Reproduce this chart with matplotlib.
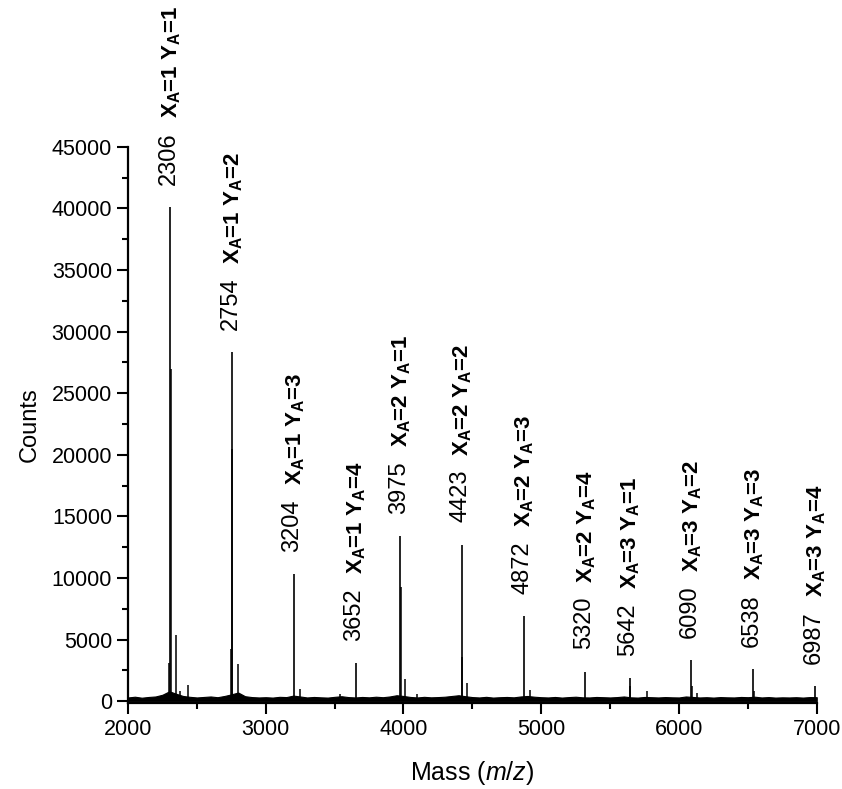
import matplotlib
matplotlib.use("Agg")
import matplotlib.pyplot as plt

plt.rcParams['font.family'] = ['Liberation Sans', 'DejaVu Sans']
plt.rcParams['mathtext.fontset'] = 'custom'
plt.rcParams['mathtext.rm'] = 'Liberation Sans'
plt.rcParams['mathtext.it'] = 'Liberation Sans:italic'
plt.rcParams['mathtext.bf'] = 'Liberation Sans:bold'
plt.rcParams['mathtext.default'] = 'regular'

# main peaks (labelled)
peak_mass = [2306, 2754, 3204, 3652, 3975, 4423, 4872, 5320, 5642, 6090, 6538, 6987]
peak_counts = [40100, 28300, 10300, 3100, 13400, 12700, 6900, 2400, 1900, 3300, 2600, 1200]
peak_names = ["X$_A$=1 Y$_A$=1", "X$_A$=1 Y$_A$=2", "X$_A$=1 Y$_A$=3", "X$_A$=1 Y$_A$=4",
              "X$_A$=2 Y$_A$=1", "X$_A$=2 Y$_A$=2", "X$_A$=2 Y$_A$=3", "X$_A$=2 Y$_A$=4",
              "X$_A$=3 Y$_A$=1", "X$_A$=3 Y$_A$=2", "X$_A$=3 Y$_A$=3", "X$_A$=3 Y$_A$=4"]

# smaller side peaks / shoulders
side_mass = [2298, 2310, 2349, 2380, 2436, 2748, 2758, 2799, 3249, 3540,
             3980, 4013, 4100, 4428, 4462, 4915, 5646, 5769, 6093, 6130, 6542]
side_counts = [3100, 27000, 5400, 800, 1300, 4200, 20500, 3000, 1000, 600,
               9300, 1800, 600, 3600, 1500, 900, 1200, 800, 1200, 700, 800]

# baseline noise level, every 50 Da (one row = 500 Da)
noise_mass = list(range(2000, 7001, 50))
noise_counts = [300, 360, 280, 340, 380, 520, 800, 600, 420, 350,
                300, 340, 380, 320, 420, 550, 700, 400, 330, 300,
                320, 290, 350, 330, 450, 380, 300, 340, 310, 290,
                350, 400, 330, 300, 340, 310, 360, 320, 380, 480,
                420, 340, 300, 350, 310, 330, 360, 420, 480, 400,
                330, 300, 350, 290, 320, 340, 310, 380, 420, 360,
                320, 300, 340, 290, 330, 360, 310, 300, 340, 320,
                300, 330, 380, 310, 290, 340, 320, 300, 330, 310,
                300, 380, 340, 300, 320, 290, 330, 310, 300, 340,
                320, 360, 300, 330, 290, 310, 300, 320, 290, 330,
                320]

fig = plt.figure(figsize=(8.42, 7.89), dpi=100)
ax = fig.add_axes([0.152, 0.109, 0.818, 0.705])

ax.fill_between(noise_mass, 0, noise_counts, color='black', linewidth=0.8)
ax.vlines(side_mass, 0, side_counts, color='black', linewidth=1.1)
ax.vlines(peak_mass, 0, peak_counts, color='black', linewidth=1.2)

for m, c, name in zip(peak_mass, peak_counts, peak_names):
    ax.annotate(str(m), xy=(m, c), xytext=(-1, 16), textcoords='offset points',
                rotation=90, ha='center', va='bottom', fontsize=17)
    ax.annotate(name, xy=(m, c), xytext=(1, 64), textcoords='offset points',
                rotation=90, ha='center', va='bottom', fontsize=16,
                fontweight='bold')

ax.set_xlim(2000, 7000)
ax.set_ylim(-150, 45000)
ax.set_xticks(range(2000, 7001, 1000))
ax.set_xticks(range(2500, 7000, 1000), minor=True)
ax.set_yticks(range(0, 45001, 5000))
ax.set_yticks(range(2500, 45000, 5000), minor=True)

ax.spines['top'].set_visible(False)
ax.spines['right'].set_visible(False)
ax.spines['left'].set_linewidth(1.6)
ax.spines['bottom'].set_linewidth(1.6)
ax.tick_params(which='major', direction='out', length=8, width=1.5, labelsize=15.5)
ax.tick_params(which='minor', direction='out', length=4, width=1.5)

ax.set_xlabel("Mass ($\\mathit{m/z}$)", fontsize=18, labelpad=14)
ax.set_ylabel("Counts", fontsize=17, labelpad=8)

fig.savefig("out.png", dpi=100)
